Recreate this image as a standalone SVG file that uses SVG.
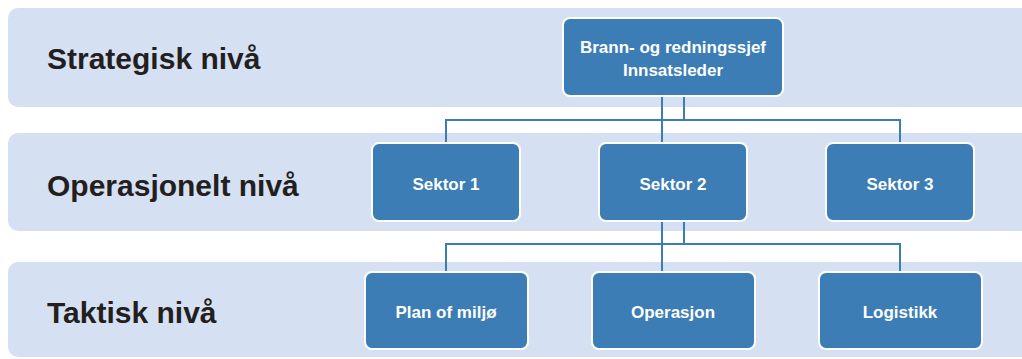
<svg xmlns="http://www.w3.org/2000/svg" width="1022" height="359" viewBox="0 0 1022 359">
  <style>
    .band { fill: #d5e1f2; }
    .level { font-family: "Liberation Sans", Arial, sans-serif; font-weight: bold; font-size: 30px; fill: #231f20; }
    .box { fill: #3b7db4; stroke: #ffffff; stroke-width: 2; }
    .label { font-family: "Liberation Sans", Arial, sans-serif; font-weight: bold; font-size: 17px; fill: #ffffff; text-anchor: middle; }
    .wire { fill: none; stroke: #3b7db4; stroke-width: 2; }
  </style>
  <rect width="1022" height="359" fill="#ffffff"/>

  <!-- level bands -->
  <g id="bands">
    <rect class="band" x="8" y="8" width="1040" height="99" rx="10"/>
    <rect class="band" x="8" y="133" width="1040" height="98" rx="10"/>
    <rect class="band" x="8" y="262" width="1040" height="95" rx="10"/>
    <text class="level" x="47" y="69">Strategisk nivå</text>
    <text class="level" x="47" y="196">Operasjonelt nivå</text>
    <text class="level" x="47" y="323">Taktisk nivå</text>
  </g>

  <!-- connectors -->
  <g id="connectors">
    <path class="wire" d="M662 96 V143"/>
    <path class="wire" d="M684 96 V120"/>
    <path class="wire" d="M446 143 V120 H900 V143"/>
    <path class="wire" d="M662 221 V272"/>
    <path class="wire" d="M684 221 V244"/>
    <path class="wire" d="M446 272 V244 H900 V272"/>
  </g>

  <g id="chief">
    <rect class="box" x="563" y="18" width="220" height="78" rx="7"/>
    <text class="label" x="673" y="53">Brann- og redningssjef</text>
    <text class="label" x="673" y="76">Innsatsleder</text>
  </g>

  <g id="sektor1">
    <rect class="box" x="372" y="143" width="148" height="78" rx="7"/>
    <text class="label" x="446" y="190">Sektor 1</text>
  </g>
  <g id="sektor2">
    <rect class="box" x="599" y="143" width="148" height="78" rx="7"/>
    <text class="label" x="673" y="190">Sektor 2</text>
  </g>
  <g id="sektor3">
    <rect class="box" x="826" y="143" width="148" height="78" rx="7"/>
    <text class="label" x="900" y="190">Sektor 3</text>
  </g>

  <g id="plan">
    <rect class="box" x="365" y="272" width="163" height="77" rx="7"/>
    <text class="label" x="446" y="318">Plan of miljø</text>
  </g>
  <g id="operasjon">
    <rect class="box" x="592" y="272" width="163" height="77" rx="7"/>
    <text class="label" x="673" y="318">Operasjon</text>
  </g>
  <g id="logistikk">
    <rect class="box" x="819" y="272" width="163" height="77" rx="7"/>
    <text class="label" x="900" y="318">Logistikk</text>
  </g>
</svg>
